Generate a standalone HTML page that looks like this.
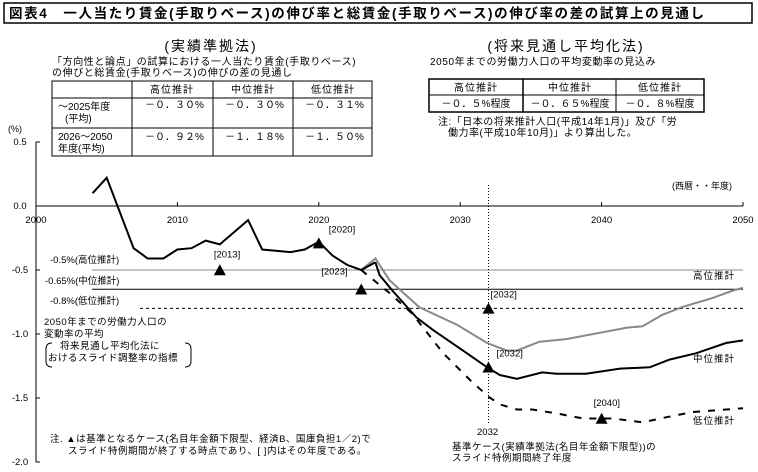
<!DOCTYPE html>
<html><head><meta charset="utf-8"><style>
body{margin:0;background:#fff;width:758px;height:467px;overflow:hidden;font-family:"Liberation Sans","Noto Sans CJK JP",sans-serif;}
svg text{font-family:"Liberation Sans","Noto Sans CJK JP",sans-serif;fill:#000;}
</style></head><body>
<svg id="chart" width="758" height="467">
<rect x="4" y="3" width="748" height="20" fill="none" stroke="#000" stroke-width="1.5"/>
<text x="9" y="18" font-size="13.5" font-weight="bold" letter-spacing="1.6">図表4　一人当たり賃金(手取りベース)の伸び率と総賃金(手取りベース)の伸び率の差の試算上の見通し</text>
<text x="211" y="51" font-size="14" text-anchor="middle" letter-spacing="2">(実績準拠法)</text>
<text x="52" y="65" font-size="10" letter-spacing="0.6">「方向性と論点」の試算における一人当たり賃金(手取りベース)</text>
<text x="52" y="76" font-size="10" letter-spacing="0.6">の伸びと総賃金(手取りベース)の伸びの差の見通し</text>
<g stroke="#000" stroke-width="1" fill="none">
<rect x="52" y="81" width="320" height="75"/>
<line x1="52" y1="98" x2="372" y2="98"/><line x1="52" y1="128" x2="372" y2="128"/>
<line x1="132" y1="81" x2="132" y2="156"/><line x1="213" y1="81" x2="213" y2="156"/><line x1="293" y1="81" x2="293" y2="156"/>
</g>
<g font-size="10">
<text x="172" y="93" text-anchor="middle" letter-spacing="1">高位推計</text><text x="253" y="93" text-anchor="middle" letter-spacing="1">中位推計</text><text x="333" y="93" text-anchor="middle" letter-spacing="1">低位推計</text>
<text x="58" y="110">～2025年度</text><text x="65" y="122">(平均)</text>
<text x="58" y="140">2026～2050</text><text x="58" y="152">年度(平均)</text>
<text x="145" y="108">－０．３０%</text><text x="225" y="108">－０．３０%</text><text x="305" y="108">－０．３１%</text>
<text x="145" y="140">－０．９２%</text><text x="225" y="140">－１．１８%</text><text x="305" y="140">－１．５０%</text>
</g>
<text x="566" y="51" font-size="14" text-anchor="middle" letter-spacing="2">(将来見通し平均化法)</text>
<text x="430" y="65" font-size="10" letter-spacing="0.6">2050年までの労働力人口の平均変動率の見込み</text>
<g stroke="#000" fill="none">
<rect x="429" y="79" width="275" height="33" stroke-width="1.5"/>
<line x1="429" y1="95" x2="704" y2="95"/><line x1="523" y1="79" x2="523" y2="112" stroke-width="1.5"/><line x1="616" y1="79" x2="616" y2="112"/>
</g>
<g font-size="10">
<text x="476" y="91" text-anchor="middle" letter-spacing="1">高位推計</text><text x="570" y="91" text-anchor="middle" letter-spacing="1">中位推計</text><text x="660" y="91" text-anchor="middle" letter-spacing="1">低位推計</text>
<text x="476" y="107" text-anchor="middle">－０．５%程度</text><text x="570" y="107" text-anchor="middle">－０．６５%程度</text><text x="660" y="107" text-anchor="middle">－０．８%程度</text>
</g>
<text x="438" y="125" font-size="10" letter-spacing="0.5">注:「日本の将来推計人口(平成14年1月)」及び「労</text>
<text x="448" y="136" font-size="10" letter-spacing="0.5">働力率(平成10年10月)」より算出した。</text>
<text x="8" y="132" font-size="9">(%)</text>
<text x="672" y="189" font-size="9">(西暦・・年度)</text>
<g id="axes"></g>
<g id="marks"></g>
<g font-size="9.5">
<text x="50" y="263">-0.5%(高位推計)</text>
<text x="45" y="284">-0.65%(中位推計)</text>
<text x="50" y="304">-0.8%(低位推計)</text>
<text x="44" y="325" letter-spacing="0.5">2050年までの労働力人口の</text>
<text x="44" y="337" letter-spacing="0.5">変動率の平均</text>
<text x="60" y="349" letter-spacing="0.5">将来見通し平均化法に</text>
<text x="48" y="361" letter-spacing="0.5">おけるスライド調整率の指標</text>
<path d="M52,343 q-6,0 -6,6 v12 q0,6 6,6 M185,343 q6,0 6,6 v12 q0,6 -6,6" fill="none" stroke="#000"/>
<text x="693" y="279" letter-spacing="1">高位推計</text>
<text x="693" y="362" letter-spacing="1">中位推計</text>
<text x="693" y="424" letter-spacing="1">低位推計</text>
<text x="477" y="435">2032</text>
<text x="50" y="442" letter-spacing="0.5">注. ▲は基準となるケース(名目年金額下限型、経済B、国庫負担1／2)で</text>
<text x="68" y="454" letter-spacing="0.5">スライド特例期間が終了する時点であり、[ ]内はその年度である。</text>
<text x="452" y="450" letter-spacing="0.5">基準ケース(実績準拠法(名目年金額下限型))の</text>
<text x="452" y="461" letter-spacing="0.5">スライド特例期間終了年度</text>
</g>
</svg>
<script>
const histYears=[2004,2005,2006.9,2007.9,2009,2010,2011,2012,2013,2015,2016,2018,2019,2020,2021,2022,2023,2024];
const histValues=[0.10,0.22,-0.33,-0.41,-0.41,-0.34,-0.33,-0.27,-0.30,-0.11,-0.34,-0.36,-0.34,-0.28,-0.39,-0.46,-0.50,-0.44];
const highYears=[2023,2024,2025,2027.1,2029.8,2031.9,2033.3,2034,2035.6,2037.5,2039.9,2041.8,2042.9,2044.3,2045.7,2047.8,2049.3,2050];
const highValues=[-0.50,-0.41,-0.58,-0.79,-0.93,-1.07,-1.13,-1.13,-1.06,-1.04,-0.99,-0.95,-0.94,-0.85,-0.79,-0.72,-0.66,-0.64];
const midYears=[2024,2024.3,2025.2,2026.9,2028.1,2030.2,2031.9,2032.8,2034,2035.8,2036.8,2038.9,2041.3,2043.4,2044.8,2046.7,2048.8,2050];
const midValues=[-0.44,-0.54,-0.66,-0.87,-0.97,-1.13,-1.26,-1.32,-1.35,-1.30,-1.31,-1.31,-1.27,-1.26,-1.20,-1.15,-1.07,-1.05];
const lowYears=[2023,2025,2026.6,2028.8,2030.7,2032,2032.8,2034,2035.1,2036.8,2038.7,2040.8,2042.9,2044.6,2046.4,2050];
const lowValues=[-0.50,-0.68,-0.84,-1.15,-1.36,-1.49,-1.55,-1.59,-1.59,-1.62,-1.66,-1.66,-1.69,-1.65,-1.61,-1.58];
const refLevels=[-0.5,-0.65,-0.8];
const markerYears=[2013,2020,2023,2032,2032,2040];
const markerValues=[-0.51,-0.30,-0.66,-0.81,-1.27,-1.67];
const markerLabels=["[2013]","[2020]","[2023]","[2032]","[2032]","[2040]"];
const yTicks=[0.5,0.0,-0.5,-1.0,-1.5,-2.0];
const yTickLabels=["0.5","0.0","-0.5","-1.0","-1.5","-2.0"];
const xTicks=[2000,2010,2020,2030,2040,2050];
const NS="http://www.w3.org/2000/svg";
const X=y=>36+(y-2000)*14.14;
const Y=v=>206-v*128;
function mk(tag,attrs,parent){const e=document.createElementNS(NS,tag);for(const k in attrs)e.setAttribute(k,attrs[k]);parent.appendChild(e);return e;}
const axes=document.getElementById('axes'),marks=document.getElementById('marks');
let e=mk('line',{x1:36,y1:Y(0.5),x2:36,y2:Y(-2),stroke:'#000'},axes);


yTicks.forEach((t,i)=>{
 mk('line',{x1:36,x2:40,y1:Y(t),y2:Y(t),stroke:'#000'},axes);
 const tx=mk('text',{x:20,y:Y(t)+3,'font-size':9.5,'text-anchor':'middle'},axes);tx.textContent=yTickLabels[i];
 
 
});
e=mk('line',{x1:36,y1:Y(0),x2:X(2050),y2:Y(0),stroke:'#000'},axes);


xTicks.forEach(t=>{
 mk('line',{x1:X(t),x2:X(t),y1:Y(0),y2:Y(0)-4,stroke:'#000'},axes);
 const tx=mk('text',{x:X(t),y:Y(0)+17,'font-size':9.5,'text-anchor':'middle'},axes);tx.textContent=t;
 
 
});
const refStyle=[{s:'#888',d:'',x0:92},{s:'#000',d:'',x0:92},{s:'#000',d:'3,3',x0:140}];
refLevels.forEach((v,i)=>{
 const l=mk('line',{x1:refStyle[i].x0,x2:X(2050),y1:Y(v),y2:Y(v),stroke:refStyle[i].s,'stroke-dasharray':refStyle[i].d},marks);
 
 
});
e=mk('line',{x1:X(2032),x2:X(2032),y1:185,y2:425,stroke:'#000','stroke-dasharray':'1,2'},marks);


function pts(xs,vs){return xs.map((x,i)=>X(x).toFixed(1)+','+Y(vs[i]).toFixed(1)).join(' ');}
e=mk('polyline',{points:pts(highYears,highValues),fill:'none',stroke:'#888','stroke-width':2},marks);


e=mk('polyline',{points:pts(lowYears,lowValues),fill:'none',stroke:'#000','stroke-width':2,'stroke-dasharray':'7,8'},marks);


e=mk('polyline',{points:pts(midYears,midValues),fill:'none',stroke:'#000','stroke-width':2},marks);


e=mk('polyline',{points:pts(histYears,histValues),fill:'none',stroke:'#000','stroke-width':2},marks);


markerYears.forEach((yr,i)=>{
 const x=X(yr),y=Y(markerValues[i]);
 const p=mk('polygon',{points:`${x},${y-7} ${x-6},${y+4} ${x+6},${y+4}`,fill:'#000'},marks);
 
 
 const off=[[-6,-14],[10,-12],[-40,-16],[2,-12],[8,-12],[-8,-14]][i];
 const t=mk('text',{x:x+off[0],y:y+off[1],'font-size':9.5},marks);t.textContent=markerLabels[i];
 
 
});
</script>
</body></html>
